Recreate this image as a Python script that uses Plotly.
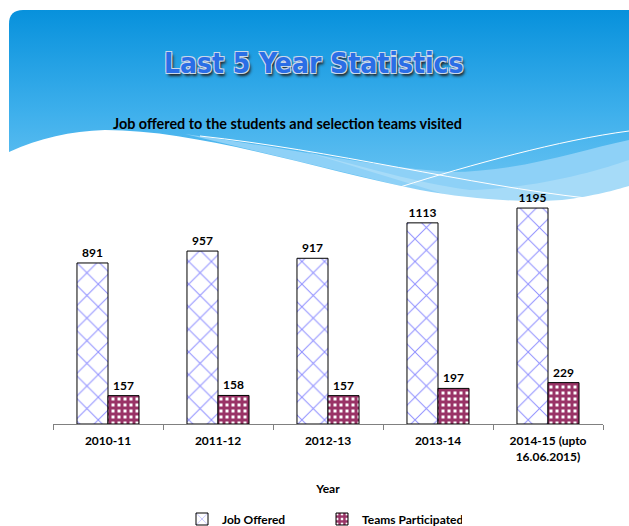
import plotly.graph_objects as go
import urllib.parse

categories = ["2010-11", "2011-12", "2012-13", "2013-14", "2014-15 (upto<br>16.06.2015)"]
job_offered = [891, 957, 917, 1113, 1195]
teams_participated = [157, 158, 157, 197, 229]

W, H = 629, 526
ML, MR, MT, MB = 53, 26, 171, 102
PW, PH = W - ML - MR, H - MT - MB

def px(x):
    return (x - ML) / PW

def py(y):
    return (H - MB - y) / PH

svg = f'''<svg xmlns="http://www.w3.org/2000/svg" width="{W}" height="{H}" viewBox="0 0 {W} {H}" preserveAspectRatio="none">
<defs><linearGradient id="g" x1="0" y1="10" x2="0" y2="200" gradientUnits="userSpaceOnUse">
<stop offset="0" stop-color="#0791dc"/><stop offset="0.55" stop-color="#3fb0ec"/><stop offset="1" stop-color="#6fc6f3"/></linearGradient></defs>
<rect width="{W}" height="{H}" fill="#ffffff"/>
<path d="M9,24 Q9,10 23,10 L629,10 L629,210 L9,210 Z" fill="url(#g)"/>
<path d="M185,134 C300,150 380,168 450,172 C520,172 580,150 629,140 L629,200 L480,205 Z" fill="#8ed1f7"/>
<path d="M300,150 C380,172 430,185 470,190 C540,188 600,170 629,160 L629,200 L480,205 Z" fill="#a6dbf8"/>
<path d="M0,158 L9,152 C40,138 70,131 105,130 C200,130 320,170 420,190 C470,199 520,203 562,200 C595,196 615,190 629,186 L629,{H} L0,{H} Z" fill="#ffffff"/>
<path d="M200,136 C330,150 470,185 586,198" stroke="#ffffff" stroke-width="1" fill="none"/>
<path d="M400,187 C470,165 560,140 629,131" stroke="#ffffff" stroke-width="1" fill="none"/>
</svg>'''
src = "data:image/svg+xml;charset=utf-8," + urllib.parse.quote(svg)

bold = dict(family="Lato", size=12, color="black", weight=700)

fig = go.Figure()
fig.add_trace(go.Bar(
    name="Job Offered", x=categories, y=job_offered,
    text=job_offered, textposition="outside", textfont=bold,
    marker=dict(color="white", line=dict(color="black", width=1),
                pattern=dict(shape="x", fgcolor="#8f8fff", bgcolor="white", fgopacity=1, size=16, solidity=0.12)),
    cliponaxis=False,
))
fig.add_trace(go.Bar(
    name="Teams Participated", x=categories, y=teams_participated,
    text=teams_participated, textposition="outside", textfont=bold,
    marker=dict(color="white", line=dict(color="black", width=1),
                pattern=dict(shape="+", fgcolor="#993366", bgcolor="white", fgopacity=1, size=6, solidity=0.75)),
    cliponaxis=False,
))

fig.update_layout(
    width=W, height=H,
    margin=dict(l=ML, r=MR, t=MT, b=MB, autoexpand=False),
    paper_bgcolor="white", plot_bgcolor="rgba(0,0,0,0)",
    barmode="group", bargap=0.436, bargroupgap=0,
    showlegend=True,
    legend=dict(orientation="h", x=px(182), xanchor="left", y=py(519), yanchor="middle",
                font=bold, entrywidth=95, itemwidth=30, bgcolor="rgba(0,0,0,0)"),
    xaxis=dict(type="category", showline=True, linecolor="#808080", linewidth=1, ticks="outside", ticklen=5,
               tickcolor="#808080", tickson="boundaries", tickfont=bold, ticklabelstandoff=6,
               title=dict(text="Year", font=bold, standoff=21),
               showgrid=False, fixedrange=True),
    yaxis=dict(range=[0, 1400], visible=False, showgrid=False, fixedrange=True),
    images=[dict(source=src, xref="paper", yref="paper", x=px(0), y=py(0), sizex=W / PW, sizey=H / PH,
                 xanchor="left", yanchor="top", sizing="stretch", layer="below")],
    annotations=[
        dict(text="Last 5 Year Statistics", x=px(314), y=py(63), xref="paper", yref="paper",
             showarrow=False, xanchor="center", yanchor="middle",
             font=dict(family="Liberation Sans Narrow, DejaVu Sans Condensed, Lato", size=28, color="#2a6ee6", weight=700,
                       shadow="-1px -1px 0 #c9d8ea, 1px -1px 0 #c9d8ea, -1px 1px 0 #c9d8ea, 1px 1px 0 #c9d8ea, 2px 3px 3px #222222")),
        dict(text="Job offered to the students and selection teams visited", x=px(287), y=py(123),
             xref="paper", yref="paper", showarrow=False, xanchor="center", yanchor="middle",
             font=dict(family="Lato", size=14.4, color="black", weight=700)),
    ],
)

fig.write_html("out.html", config={"displayModeBar": False},
               post_script="document.body.style.margin='0';document.body.style.padding='0';document.documentElement.style.overflow='hidden';")
